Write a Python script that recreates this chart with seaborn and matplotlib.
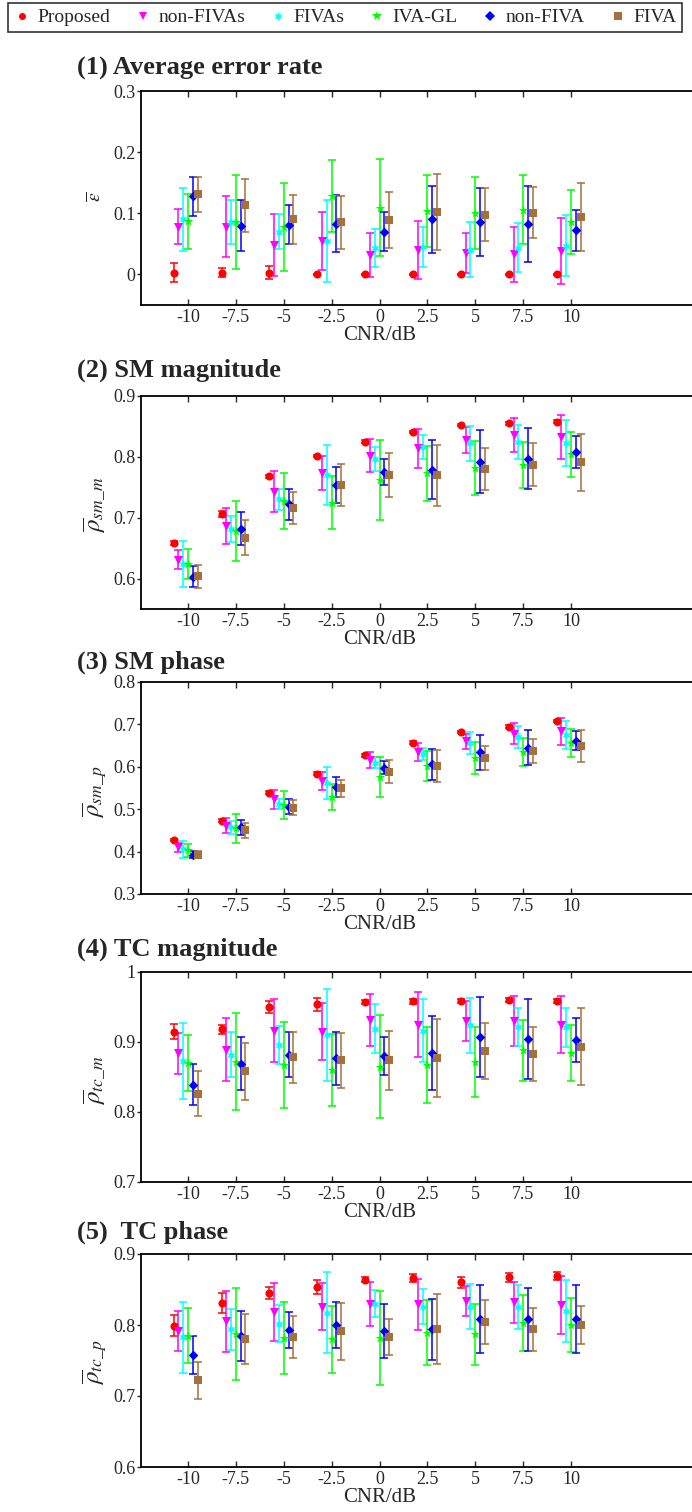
import matplotlib
matplotlib.use("Agg")
import matplotlib.pyplot as plt
from matplotlib.lines import Line2D
import seaborn as sns
import pandas as pd
import numpy as np

# ---------------- data ----------------
methods = ["Proposed", "non-FIVAs", "FIVAs", "IVA-GL", "non-FIVA", "FIVA"]
cnr = [-10, -7.5, -5, -2.5, 0, 2.5, 5, 7.5, 10]
xtick_labels = ["-10", "-7.5", "-5", "-2.5", "0", "2.5", "5", "7.5", "10"]

err_mean = [
    [0.003, 0.003, 0.003, 0.000, 0.000, 0.000, 0.000, 0.000, 0.000],
    [0.078, 0.078, 0.048, 0.055, 0.032, 0.040, 0.035, 0.033, 0.038],
    [0.090, 0.085, 0.070, 0.054, 0.043, 0.045, 0.040, 0.044, 0.047],
    [0.087, 0.086, 0.077, 0.128, 0.109, 0.104, 0.101, 0.106, 0.086],
    [0.128, 0.080, 0.081, 0.083, 0.070, 0.090, 0.086, 0.083, 0.072],
    [0.131, 0.113, 0.090, 0.085, 0.089, 0.102, 0.098, 0.101, 0.094]]
err_std = [
    [0.016, 0.008, 0.011, 0.001, 0.001, 0.001, 0.001, 0.001, 0.001],
    [0.029, 0.050, 0.051, 0.047, 0.036, 0.047, 0.033, 0.045, 0.054],
    [0.052, 0.036, 0.029, 0.067, 0.031, 0.033, 0.045, 0.040, 0.050],
    [0.045, 0.077, 0.072, 0.059, 0.079, 0.059, 0.059, 0.056, 0.052],
    [0.032, 0.041, 0.032, 0.047, 0.032, 0.055, 0.056, 0.062, 0.033],
    [0.029, 0.043, 0.040, 0.043, 0.045, 0.062, 0.044, 0.042, 0.055]]

smm_mean = [
    [0.658, 0.706, 0.768, 0.801, 0.825, 0.841, 0.852, 0.855, 0.858],
    [0.631, 0.686, 0.743, 0.773, 0.802, 0.814, 0.828, 0.836, 0.833],
    [0.624, 0.681, 0.730, 0.770, 0.797, 0.816, 0.822, 0.824, 0.823],
    [0.624, 0.678, 0.728, 0.725, 0.762, 0.773, 0.782, 0.787, 0.804],
    [0.603, 0.682, 0.722, 0.754, 0.775, 0.779, 0.792, 0.797, 0.808],
    [0.604, 0.667, 0.716, 0.754, 0.770, 0.770, 0.780, 0.787, 0.791]]
smm_std = [
    [0.003, 0.005, 0.003, 0.002, 0.002, 0.002, 0.002, 0.002, 0.002],
    [0.016, 0.030, 0.033, 0.028, 0.027, 0.032, 0.021, 0.028, 0.036],
    [0.038, 0.021, 0.018, 0.049, 0.020, 0.020, 0.029, 0.028, 0.038],
    [0.024, 0.049, 0.046, 0.044, 0.066, 0.045, 0.044, 0.038, 0.037],
    [0.017, 0.027, 0.025, 0.030, 0.021, 0.048, 0.052, 0.050, 0.027],
    [0.019, 0.029, 0.026, 0.034, 0.036, 0.050, 0.034, 0.035, 0.047]]

smp_mean = [
    [0.427, 0.473, 0.539, 0.584, 0.627, 0.657, 0.682, 0.695, 0.708],
    [0.410, 0.461, 0.523, 0.567, 0.617, 0.635, 0.660, 0.678, 0.684],
    [0.405, 0.457, 0.512, 0.562, 0.610, 0.631, 0.657, 0.670, 0.676],
    [0.403, 0.455, 0.510, 0.528, 0.575, 0.602, 0.621, 0.635, 0.657],
    [0.393, 0.457, 0.506, 0.552, 0.598, 0.606, 0.634, 0.645, 0.662],
    [0.393, 0.450, 0.504, 0.549, 0.588, 0.602, 0.621, 0.637, 0.649]]
smp_std = [
    [0.003, 0.003, 0.003, 0.003, 0.003, 0.003, 0.003, 0.003, 0.003],
    [0.010, 0.018, 0.022, 0.021, 0.019, 0.022, 0.018, 0.025, 0.032],
    [0.020, 0.015, 0.011, 0.037, 0.013, 0.014, 0.026, 0.026, 0.033],
    [0.016, 0.034, 0.032, 0.031, 0.047, 0.036, 0.037, 0.033, 0.033],
    [0.008, 0.018, 0.017, 0.024, 0.016, 0.037, 0.041, 0.041, 0.022],
    [0.009, 0.017, 0.018, 0.021, 0.027, 0.037, 0.028, 0.028, 0.037]]

tcm_mean = [
    [0.915, 0.918, 0.950, 0.954, 0.957, 0.958, 0.959, 0.960, 0.959],
    [0.884, 0.889, 0.916, 0.915, 0.931, 0.925, 0.930, 0.930, 0.925],
    [0.873, 0.882, 0.896, 0.910, 0.919, 0.916, 0.924, 0.921, 0.921],
    [0.870, 0.872, 0.867, 0.860, 0.865, 0.867, 0.871, 0.888, 0.884],
    [0.839, 0.869, 0.882, 0.877, 0.880, 0.884, 0.907, 0.904, 0.903],
    [0.826, 0.858, 0.878, 0.874, 0.874, 0.877, 0.887, 0.883, 0.893]]
tcm_std = [
    [0.011, 0.006, 0.009, 0.009, 0.003, 0.003, 0.003, 0.003, 0.003],
    [0.029, 0.045, 0.045, 0.041, 0.037, 0.047, 0.028, 0.036, 0.041],
    [0.054, 0.032, 0.027, 0.066, 0.035, 0.045, 0.039, 0.027, 0.028],
    [0.040, 0.069, 0.061, 0.051, 0.073, 0.054, 0.050, 0.044, 0.040],
    [0.029, 0.038, 0.032, 0.038, 0.027, 0.053, 0.057, 0.057, 0.032],
    [0.032, 0.041, 0.037, 0.039, 0.042, 0.056, 0.040, 0.038, 0.055]]

tcp_mean = [
    [0.799, 0.831, 0.845, 0.854, 0.864, 0.866, 0.860, 0.867, 0.869],
    [0.792, 0.805, 0.818, 0.826, 0.829, 0.829, 0.834, 0.832, 0.828],
    [0.783, 0.794, 0.802, 0.817, 0.830, 0.826, 0.826, 0.826, 0.820],
    [0.785, 0.787, 0.782, 0.780, 0.782, 0.789, 0.787, 0.803, 0.800],
    [0.758, 0.785, 0.793, 0.800, 0.792, 0.794, 0.808, 0.808, 0.809],
    [0.722, 0.780, 0.783, 0.791, 0.783, 0.794, 0.804, 0.794, 0.800]]
tcp_std = [
    [0.015, 0.014, 0.009, 0.010, 0.004, 0.006, 0.008, 0.006, 0.005],
    [0.028, 0.043, 0.041, 0.033, 0.031, 0.036, 0.021, 0.029, 0.041],
    [0.050, 0.029, 0.026, 0.057, 0.019, 0.025, 0.032, 0.031, 0.044],
    [0.039, 0.065, 0.051, 0.047, 0.066, 0.046, 0.043, 0.039, 0.038],
    [0.027, 0.035, 0.026, 0.032, 0.038, 0.043, 0.048, 0.044, 0.048],
    [0.026, 0.035, 0.029, 0.040, 0.025, 0.049, 0.031, 0.030, 0.027]]

titles = ["(1) Average error rate", "(2) SM magnitude", "(3) SM phase",
          "(4) TC magnitude", "(5)  TC phase"]
ylabels = [r"$\overline{\varepsilon}$", r"$\overline{\rho}_{sm\_m}$",
           r"$\overline{\rho}_{sm\_p}$", r"$\overline{\rho}_{tc\_m}$",
           r"$\overline{\rho}_{tc\_p}$"]
yticks = [[0, 0.1, 0.2, 0.3], [0.6, 0.7, 0.8, 0.9], [0.3, 0.4, 0.5, 0.6, 0.7, 0.8],
          [0.7, 0.8, 0.9, 1.0], [0.6, 0.7, 0.8, 0.9]]
ytick_labels = [["0", "0.1", "0.2", "0.3"], ["0.6", "0.7", "0.8", "0.9"],
                ["0.3", "0.4", "0.5", "0.6", "0.7", "0.8"],
                ["0.7", "0.8", "0.9", "1"], ["0.6", "0.7", "0.8", "0.9"]]
ylims = [(-0.05, 0.3), (0.55, 0.9), (0.3, 0.8), (0.7, 1.0), (0.6, 0.9)]
panel_means = [err_mean, smm_mean, smp_mean, tcm_mean, tcp_mean]
panel_stds = [err_std, smm_std, smp_std, tcm_std, tcp_std]

# ---------------- style ----------------
colors = ["#ff0000", "#ff00ff", "#00ffff", "#00ff00", "#0000ff", "#a4703c"]
markers = ["o", "v", (6, 1, 0), "*", "D", "s"]
msizes = [34, 42, 44, 52, 24, 34]
offsets = [-0.75, -0.5, -0.25, 0.0, 0.25, 0.5]

sns.set_theme(style="ticks")
plt.rcParams["font.family"] = ["Liberation Serif", "DejaVu Serif"]
plt.rcParams["mathtext.fontset"] = "stix"
plt.rcParams["axes.unicode_minus"] = False

W, H = 692, 1512
fig = plt.figure(figsize=(W / 100, H / 100), dpi=100)

def fx(x):
    return x / W

def fy(y):
    return 1 - y / H

# axes pixel boxes: (top, bottom)
boxes = [(91, 305), (396, 609), (682, 894), (972, 1182), (1254, 1467)]
title_y = [68, 370, 662, 949, 1232]
ylabel_y = [197, 505, 792, 1080, 1362]
ax_left, ax_right = 141, 692
x_lo = -10 - (188 - 141) / 19.15
x_hi = 10 + (ax_right - 571) / 19.15

for p in range(5):
    top, bot = boxes[p]
    ax = fig.add_axes([fx(ax_left), fy(bot), (ax_right - ax_left) / W, (bot - top) / H])
    means = panel_means[p]
    stds = panel_stds[p]
    rows = []
    for i, m in enumerate(methods):
        for j, c in enumerate(cnr):
            rows.append({"method": m, "x": c + offsets[i], "mean": means[i][j], "std": stds[i][j]})
    df = pd.DataFrame(rows)
    for i, m in enumerate(methods):
        d = df[df["method"] == m]
        ax.errorbar(d["x"], d["mean"], yerr=d["std"], fmt="none", ecolor=colors[i],
                    elinewidth=1.1, capsize=3.0, capthick=1.1, zorder=2)
    for i, m in enumerate(methods):
        d = df[df["method"] == m]
        sns.scatterplot(data=d, x="x", y="mean", ax=ax, color=colors[i], marker=markers[i],
                        s=msizes[i], linewidth=0, legend=False, zorder=3)
    ax.set_xlim(x_lo, x_hi)
    ax.set_ylim(*ylims[p])
    ax.set_xticks(cnr)
    ax.set_xticklabels(xtick_labels, fontsize=13)
    ax.set_yticks(yticks[p])
    ax.set_yticklabels(ytick_labels[p], fontsize=13)
    ax.tick_params(axis="x", direction="in", top=True, bottom=True, length=4, width=1.0, pad=3)
    ax.tick_params(axis="y", direction="out", left=True, right=False, length=3, width=1.0, pad=1)
    for s in ["left", "bottom", "top"]:
        ax.spines[s].set_linewidth(1.3)
        ax.spines[s].set_color("black")
    ax.spines["right"].set_visible(False)
    ax.set_xlabel("CNR/dB", fontsize=15, labelpad=0)
    ax.set_ylabel("")
    ax.xaxis.label.set_position(((380 - ax_left) / (ax_right - ax_left), 0))
    ax.grid(False)
    fig.text(fx(77), fy(title_y[p]), titles[p], fontsize=19, fontweight="bold",
             ha="left", va="center")
    fig.text(fx(95), fy(ylabel_y[p]), ylabels[p], fontsize=18 if p > 0 else 14,
             rotation=90, ha="center", va="center")

handles = [Line2D([0], [0], linestyle="none", marker=markers[i], color=colors[i],
                  markersize=[5, 6, 6.5, 7, 5, 5.5][i], markeredgewidth=0)
           for i in range(6)]
leg = fig.legend(handles, methods, ncol=6, loc="upper left",
                 bbox_to_anchor=(fx(8), fy(3)), frameon=True, fancybox=False,
                 edgecolor="black", fontsize=14, handlelength=0.8, handletextpad=0.4,
                 columnspacing=1.28, borderpad=0.3, borderaxespad=0)
leg.get_frame().set_linewidth(1.2)

fig.savefig("out.png", dpi=100)
